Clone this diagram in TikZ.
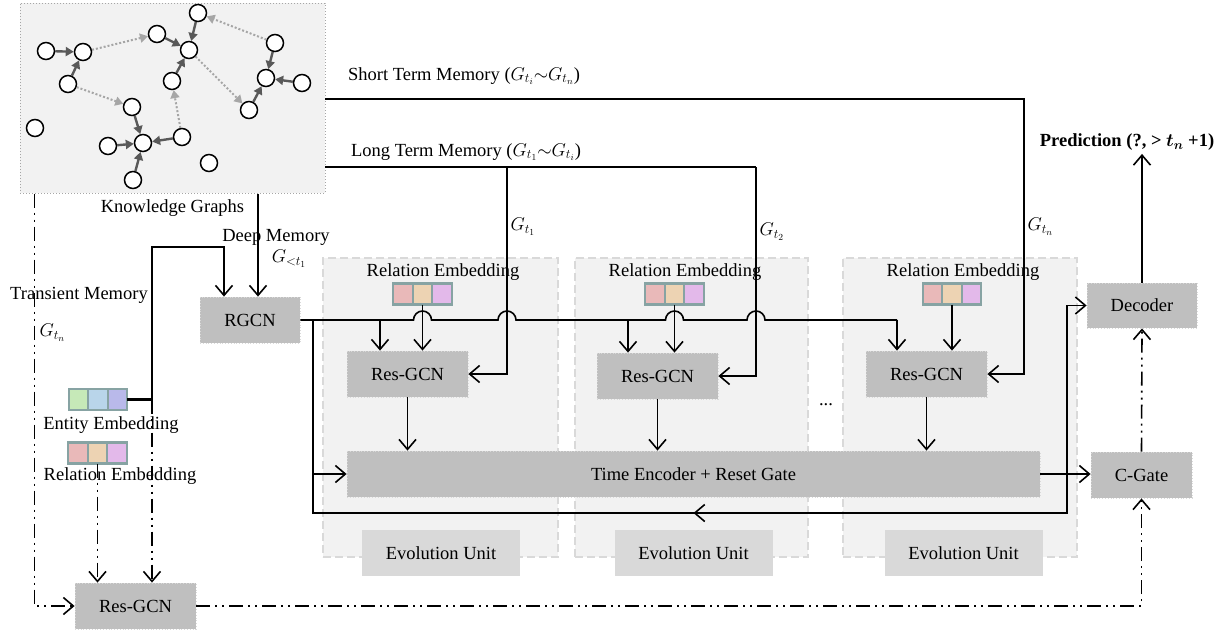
\documentclass[tikz,border=0pt]{standalone}
\usepackage{fix-cm}
\usepackage{amsmath}
\usepackage{fontspec}
\setmainfont{Liberation Serif}
\usepackage{tikz}
\usetikzlibrary{arrows.meta,positioning}

\definecolor{boxgray}{HTML}{BFBFBF}
\definecolor{unitfill}{HTML}{F2F2F2}
\definecolor{unitline}{HTML}{D9D9D9}
\definecolor{labfill}{HTML}{D9D9D9}
\definecolor{edgedark}{HTML}{595959}
\definecolor{edgelight}{HTML}{A6A6A6}
\definecolor{embline}{HTML}{87A3A3}
\definecolor{entcA}{HTML}{C6E9B8}
\definecolor{entcB}{HTML}{B9D5EA}
\definecolor{entcC}{HTML}{B9B9EA}
\definecolor{relcA}{HTML}{E9B9B9}
\definecolor{relcB}{HTML}{EDD3B3}
\definecolor{relcC}{HTML}{E3B9EA}

\newcommand{\embrow}[5]{%
  \node[embbar] (#1) at (#2) {};
  \foreach \c [count=\k] in {#3,#4,#5}
    \node[embcell, fill=\c] at ([xshift={(\k-2)*19.5}]#1) {};
}

\begin{document}
\begin{tikzpicture}[x=1pt, y=-1pt, font=\fontsize{18.5}{22}\selectfont,
  >={Straight Barb[length=10pt,width=17pt]},
  conn/.style={draw, line width=1.6pt},
  dd/.style={draw, line width=1.6pt, dash pattern=on 14pt off 5pt on 2pt off 5pt on 2pt off 5pt},
  gbox/.style={rectangle, fill=boxgray, draw=unitline, dotted, line width=0.8pt, minimum width=121, minimum height=46, inner sep=0},
  unit/.style={rectangle, fill=unitfill, draw=unitline, line width=2pt, dash pattern=on 8pt off 4pt, minimum width=235, minimum height=299},
  unitlab/.style={rectangle, fill=labfill, minimum width=158, minimum height=46},
  embbar/.style={rectangle, minimum width=58.5, minimum height=21, inner sep=0},
  embcell/.style={rectangle, draw=embline, line width=2.2pt, minimum width=19.5, minimum height=21, inner sep=0},
  kgnode/.style={circle, draw, fill=white, line width=1.5pt, minimum size=17, inner sep=0},
  kgedge/.style={-{Triangle[length=8pt,width=9pt]}, draw=edgedark, line width=2.4pt},
  kglink/.style={-{Triangle[length=8pt,width=9pt]}, draw=edgelight, line width=2pt, dotted}]
  \useasboundingbox (0,0) rectangle (1228,633);

  \node[rectangle, fill=unitfill, draw=edgelight, dotted, line width=1pt, minimum width=305, minimum height=190] (kg) at (172.5,98) {};
  \foreach \n/\x/\y in {n1/46/51, n2/83/52, n3/68/84, n4/157/34, n5/189/50, n6/198/13,
      n7/275/43, n8/266/78, n9/302/83, n10/172/81, n11/249/110, n12/132/107,
      n13/143/143, n14/108/146, n15/182/137, n16/133/180, n17/35/128, n18/209/163}
    \node[kgnode] (\n) at (\x,\y) {};
  \foreach \u/\v in {n1/n2, n3/n2, n4/n5, n6/n5, n10/n5, n7/n8, n9/n8, n11/n8,
      n12/n13, n14/n13, n15/n13, n16/n13}
    \draw[kgedge] (\u) -- (\v);
  \foreach \u/\v in {n2/n4, n3/n12, n5/n11, n7/n6, n15/n10}
    \draw[kglink] (\u) -- (\v);
  \node[below=3pt of kg] (kglab) {Knowledge Graphs};

  \node[unit] (unitA) at (440.5,407.5) {};
  \node[unit, minimum width=233] (unitB) at (691.5,407.5) {};
  \node[unit, minimum width=234] (unitC) at (960,407.5) {};
  \node[unitlab] (evA) at (441,553) {Evolution Unit};
  \node[unitlab] (evB) at (693.5,553) {Evolution Unit};
  \node[unitlab] (evC) at (963.5,553) {Evolution Unit};

  \node[gbox, minimum width=100] (rgcn) at (250,320) {RGCN};
  \node[gbox] (resL) at (135.5,606) {Res-GCN};
  \node[gbox] (resA) at (407.5,374) {Res-GCN};
  \node[gbox] (resB) at (657.5,376) {Res-GCN};
  \node[gbox] (resC) at (926.5,374) {Res-GCN};
  \node[gbox, minimum width=693] (timeenc) at (693.5,474) {Time Encoder + Reset Gate};
  \node[gbox, minimum width=101] (cgate) at (1141.5,475) {C-Gate};
  \node[gbox, minimum width=110, minimum height=45] (decoder) at (1142,305.5) {Decoder};

  \embrow{entL}{98,399.5}{entcA}{entcB}{entcC}
  \embrow{relL}{97.5,453}{relcA}{relcB}{relcC}
  \embrow{relA}{422.5,294}{relcA}{relcB}{relcC}
  \embrow{relB}{674.5,294}{relcA}{relcB}{relcC}
  \embrow{relC}{952,294}{relcA}{relcB}{relcC}

  \node (entlab) at (111,425) {Entity Embedding};
  \node (rellab) at (120,476) {Relation Embedding};
  \node (relAlab) at (443,272) {Relation Embedding};
  \node (relBlab) at (685,272) {Relation Embedding};
  \node (relClab) at (963,272) {Relation Embedding};
  \node (translab) at (79,295) {Transient Memory};
  \node[anchor=west] (transG) at (36,333) {$G_{t_n}$};
  \node (deeplab) at (276,237) {Deep Memory};
  \node (deepG) at (289,259) {$G_{<t_1}$};
  \node (stmlab) at (464,76) {Short Term Memory ($G_{t_i}{\sim}G_{t_n}$)};
  \node (ltmlab) at (466,152) {Long Term Memory ($G_{t_1}{\sim}G_{t_i}$)};
  \node[anchor=west] (gAlab) at (507,227) {$G_{t_1}$};
  \node[anchor=west] (gBlab) at (756,232) {$G_{t_2}$};
  \node[anchor=west] (gClab) at (1024,227) {$G_{t_n}$};
  \node (pred) at (1127,142) {\textbf{Prediction (?, > $\boldsymbol{t_n}$ +1)}};
  \node (dots) at (826,405) {...};

  \coordinate (transTop) at (152,247);
  \coordinate (busA) at (380,320);
  \coordinate (busB) at (628,320);
  \coordinate (busC) at (897,320);
  \coordinate (loopL) at (313,513);
  \coordinate (loopR) at (1067,513);
  \coordinate (ltm) at (325,167);
  \coordinate (gA) at (507,167);
  \coordinate (gB) at (756,167);
  \coordinate (stm) at (325,99);
  \coordinate (gC) at (1024,99);

  \draw[conn,->] ([xshift=8]rgcn.north |- kg.south) -- ([xshift=8]rgcn.north);
  \draw[conn, line width=2.6pt] (entL.east) -- (transTop |- entL.east);
  \draw[conn,->] (transTop |- entL.east) -- (transTop) -| ([xshift=-26]rgcn.north);
  \draw[dd,->] (transTop |- entL.east) -- (transTop |- resL.north);
  \draw[dd,->] (relL.south) -- (relL.south |- resL.north);
  \draw[dd,->] ([xshift=15]kg.south west) |- (resL.west);
  \draw[dd,->] (resL.east) -| (cgate.south);
  \draw[dd,->] (cgate.north) -- (decoder.south);
  \draw[conn,->] (decoder.north) -- (decoder.north |- pred.south);
  \draw[conn,->] (timeenc.east) -- (timeenc.east -| cgate.west);

  \draw[conn] (rgcn.east) -- (413.5,320) arc[start angle=180, end angle=360, radius=9]
    -- (498,320) arc[start angle=180, end angle=360, radius=9]
    -- (665.5,320) arc[start angle=180, end angle=360, radius=9]
    -- (747,320) arc[start angle=180, end angle=360, radius=9] -- (busC);
  \draw[conn,->] (busA) -- (busA |- resA.north);
  \draw[conn,->] (busB) -- (busB |- resB.north);
  \draw[conn,->] (busC) -- (busC |- resC.north);
  \draw[conn,->] (relA.south) -- (relA.south |- resA.north);
  \draw[conn,->] (relB.south) -- (relB.south |- resB.north);
  \draw[conn,->] (relC.south) -- (relC.south |- resC.north);
  \draw[conn,->] (resA.south) -- (resA.south |- timeenc.north);
  \draw[conn,->] (resB.south) -- (resB.south |- timeenc.north);
  \draw[conn,->] (resC.south) -- (resC.south |- timeenc.north);

  \draw[conn,->] (rgcn.east -| loopL) -- (loopL) -- (loopR) |- (decoder.west);
  \draw[conn,->] (loopR) -- (timeenc.center |- loopL);
  \draw[conn,->] (loopL |- timeenc.west) -- (timeenc.west);

  \draw[conn] (ltm) -- (gB);
  \draw[conn,->] (gA) |- (resA.east);
  \draw[conn,->] (gB) |- (resB.east);
  \draw[conn,->] (stm) -- (gC) |- (resC.east);
\end{tikzpicture}
\end{document}
